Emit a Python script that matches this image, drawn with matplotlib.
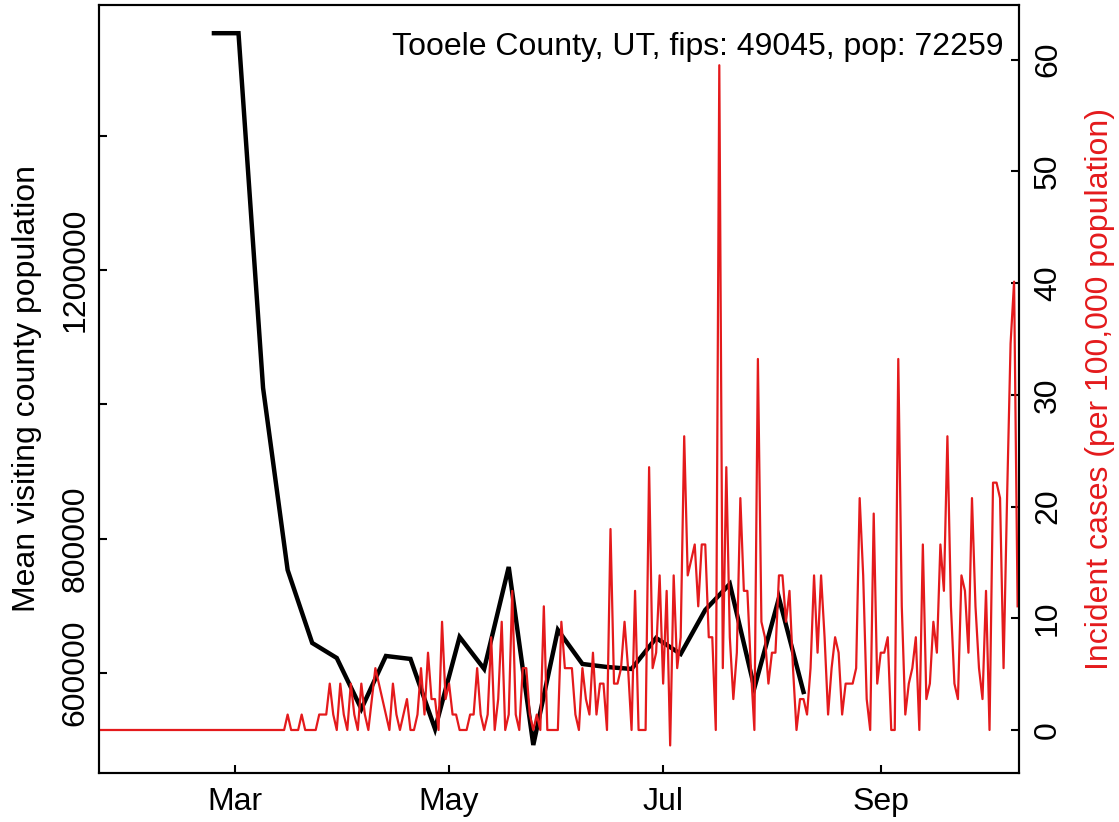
import datetime as dt
import matplotlib
matplotlib.use("Agg")
import matplotlib.pyplot as plt
import matplotlib.dates as mdates

plt.rcParams['font.family'] = ['Liberation Sans', 'DejaVu Sans']

# county info (shown in the corner label)
county_label = "Tooele County, UT, fips: 49045, pop: 72259"
population = 72259

# weekly mean visiting county population, weeks starting 2020-02-24
visit_start = dt.date(2020, 2, 24)
visit_pop = [1553000, 1553000, 1024600, 753400, 644700, 622300, 546400,
             625300, 620900, 516600, 653600, 606000, 757900, 492700,
             664100, 613400, 608900, 606000, 652100, 628300, 693900,
             732600, 577700, 711700, 571700]

# daily new cases, from 2020-01-22 to 2020-10-10
case_start = dt.date(2020, 1, 22)
daily_cases = [
    0, 0, 0, 0, 0, 0, 0, 0, 0, 0, 0, 0, 0, 0, 0, 0, 0, 0,
    0, 0, 0, 0, 0, 0, 0, 0, 0, 0, 0, 0, 0, 0, 0, 0, 0, 0,
    0, 0, 0, 0, 0, 0, 0, 0, 0, 0, 0, 0, 0, 0, 0, 0, 0, 0,
    1, 0, 0, 0, 1, 0, 0, 0, 0, 1,
    1, 1, 3, 1, 0, 3, 1, 0, 3, 1,
    0, 3, 1, 0, 2, 4, 3, 2, 1, 0,
    3, 1, 0, 1, 2, 0, 0, 1, 4, 1,
    5, 2, 2, 0, 7, 2, 3, 1, 1, 0,
    0, 0, 1, 1, 4, 1, 0, 1, 6, 0,
    2, 7, 0, 1, 9, 1, 0, 4, 4, 1,
    0, 1, 0, 8, 0, 0, 0, 0, 7, 4,
    4, 4, 1, 0, 4, 2, 1, 5, 1, 3,
    3, 0, 13, 3, 3, 4, 7, 4, 0, 9,
    0, 0, 0, 17, 4, 5, 10, 3, 9, -1,
    10, 4, 6, 19, 10, 11, 12, 8, 12, 12,
    6, 6, 0, 43, 4, 17, 6, 2, 5, 15,
    9, 9, 4, 0, 24, 7, 6, 3, 5, 5,
    10, 10, 7, 9, 4, 0, 2, 2, 1, 4,
    10, 5, 10, 6, 1, 4, 6, 5, 1, 3,
    3, 3, 4, 15, 10, 2, 0, 14, 3, 5,
    5, 6, 0, 0, 24, 8, 1, 3, 4, 6,
    0, 12, 2, 3, 7, 5, 12, 9, 19, 8,
    3, 2, 10, 9, 5, 15, 8, 4, 2, 9,
    0, 16, 16, 15, 4, 15, 25, 29, 8,
]

month_ticks = [dt.date(2020, 3, 1), dt.date(2020, 5, 1),
               dt.date(2020, 7, 1), dt.date(2020, 9, 1)]
month_labels = ["Mar", "May", "Jul", "Sep"]
left_ticks = [600000, 800000, 1000000, 1200000, 1400000]
left_labels = ["600000", "800000", "", "1200000", ""]
right_ticks = [0, 10, 20, 30, 40, 50, 60]

RED = "#E41A1C"
FS = 23

visit_dates = [visit_start + dt.timedelta(days=7 * i) for i in range(len(visit_pop))]
case_dates = [case_start + dt.timedelta(days=i) for i in range(len(daily_cases))]
incidence = [c * 100000 / population for c in daily_cases]

fig = plt.figure(figsize=(11.19, 8.22), dpi=100)
ax = fig.add_axes([99 / 1119, 49 / 822, 920 / 1119, 768 / 822])

ax.plot(visit_dates, visit_pop, color="black", lw=3.2, solid_joinstyle="miter")
mar1 = mdates.date2num(dt.date(2020, 3, 1))
ax.set_xlim(mar1 - 38.75, mar1 + 223.4)
ax.set_ylim(451000, 1595000)
ax.set_xticks([mdates.date2num(d) for d in month_ticks])
ax.set_xticklabels(month_labels)
ax.set_yticks(left_ticks)
ax.set_yticklabels(left_labels, rotation=90, va="center")
ax.set_ylabel("Mean visiting county population", fontsize=FS)
ax.yaxis.set_label_coords(-0.062, 0.5)
ax.tick_params(direction="in", length=6, width=1.5, labelsize=FS)
ax.tick_params(axis="x", pad=10)
ax.tick_params(axis="y", pad=6)
for s in ax.spines.values():
    s.set_linewidth(1.5)

ax2 = ax.twinx()
ax2.plot(case_dates, incidence, color=RED, lw=1.6)
ax2.set_xlim(mar1 - 38.75, mar1 + 223.4)
ax2.set_ylim(-3.85, 64.9)
ax2.set_yticks(right_ticks)
ax2.set_yticklabels([str(t) for t in right_ticks], rotation=90, va="center")
ax2.set_ylabel("Incident cases (per 100,000 population)", color=RED, fontsize=FS)
ax2.yaxis.set_label_coords(1.072, 0.5)
ax2.tick_params(direction="in", length=6, width=1.5, labelsize=FS, pad=10)
for s in ax2.spines.values():
    s.set_linewidth(1.5)

ax.text(0.983, 0.945, county_label, transform=ax.transAxes, ha="right",
        va="center", fontsize=FS)

fig.savefig("out.png", dpi=100)
